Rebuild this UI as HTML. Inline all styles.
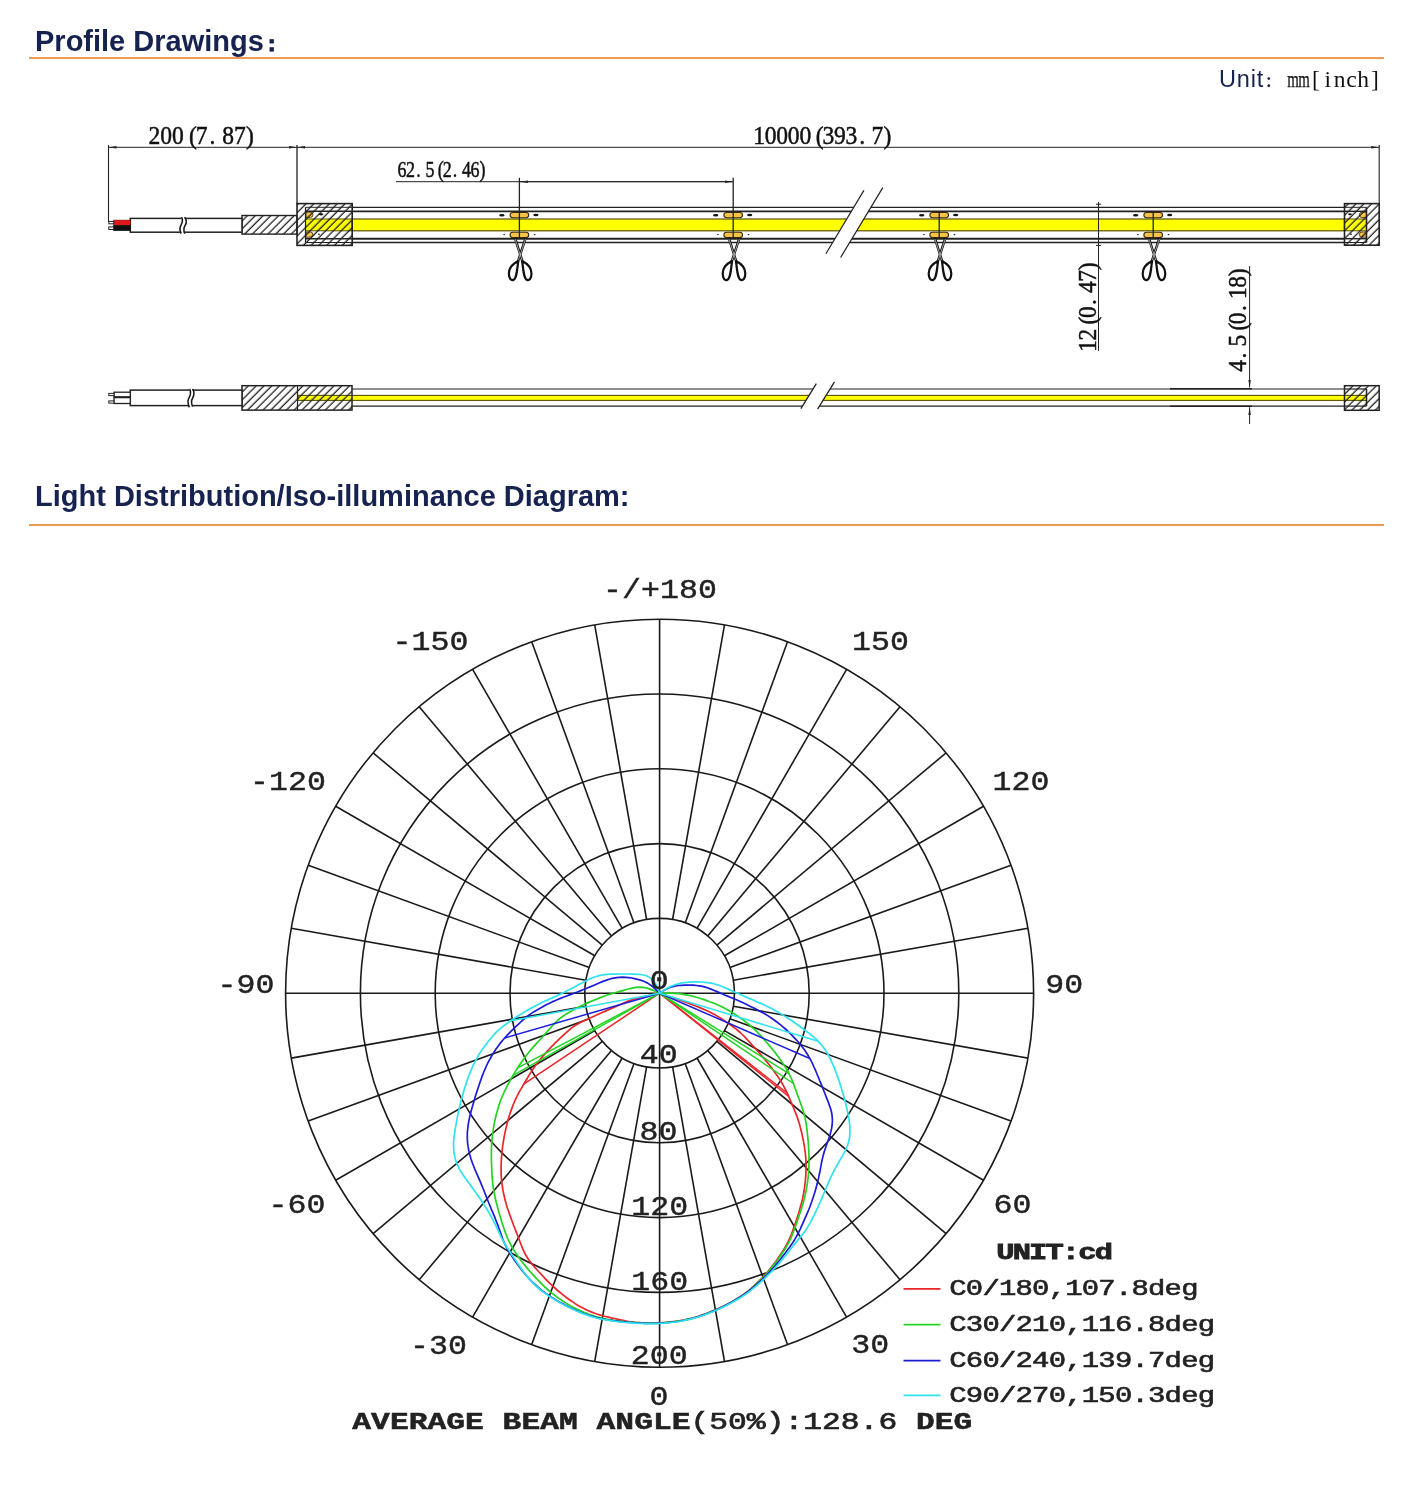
<!DOCTYPE html>
<html lang="en"><head><meta charset="utf-8"><title>Profile Drawings</title>
<style>
html,body{margin:0;padding:0;background:#fff;}
body{width:1422px;height:1500px;position:relative;overflow:hidden;font-family:"Liberation Sans","Noto Sans CJK SC",sans-serif;}
.h{position:absolute;left:35px;font-weight:bold;font-size:29px;color:#16224f;white-space:nowrap;line-height:32px;}
.rule{position:absolute;left:29px;width:1355px;height:2px;background:#ec9a55;}
.unit{position:absolute;white-space:nowrap;font-size:23.5px;line-height:28px;color:#16224f;}
.unit .s{font-family:"Liberation Serif","Noto Serif CJK SC",serif;color:#111;}
.unit .s i{font-style:normal;display:inline-block;width:11.8px;text-align:center;}
.unit .s i.m{text-align:left;transform:translateX(-3.1px) scaleX(0.63);transform-origin:9.1px 50%;-webkit-text-stroke:0.25px #111;}
.unit .u{letter-spacing:0.8px;}
.unit .c{font-family:"Liberation Serif","Noto Serif CJK SC",serif;line-height:0;font-size:16px;font-weight:bold;margin-left:0.5px;margin-right:6px;}
.fc{font-family:"Liberation Sans","IPAGothic","Noto Sans CJK SC",sans-serif;font-size:23px;line-height:0;position:relative;top:1.8px;margin-left:-3.6px;-webkit-text-stroke:0.7px #16224f;}
svg{position:absolute;left:0;top:0;}
.dim{font-family:"Liberation Serif","Noto Serif CJK SC",serif;font-size:25px;fill:#111;}
.pl{font-family:"Liberation Mono",monospace;font-weight:bold;fill:#222;}
</style></head><body>

<div class="h" style="top:24.5px">Profile Drawings<span class="fc">：</span></div>
<div class="rule" style="top:57px"></div>
<div class="unit" style="left:1219px;top:64.5px"><span class="u">Unit</span><span class="c">：</span><span class="s"><i class="m">m</i><i class="m">m</i><i>[</i><i>i</i><i>n</i><i>c</i><i>h</i><i>]</i></span></div>
<div class="h" style="top:480.4px">Light Distribution/Iso-illuminance Diagram:</div>
<div class="rule" style="top:524px"></div>
<svg width="1422" height="1500" viewBox="0 0 1422 1500">
<defs>
<pattern id="ht" width="5.5" height="5.5" patternUnits="userSpaceOnUse" patternTransform="rotate(-45)"><line x1="0" y1="3" x2="5.5" y2="3" stroke="#1a1a1a" stroke-width="1.25"/></pattern>
<pattern id="ht2" width="5.5" height="5.5" patternUnits="userSpaceOnUse" patternTransform="rotate(-45)"><line x1="0" y1="3" x2="5.5" y2="3" stroke="#222" stroke-width="1.2"/></pattern>
<marker id="ar" viewBox="0 0 8 3" refX="8" refY="1.5" markerWidth="8" markerHeight="3" orient="auto-start-reverse" markerUnits="userSpaceOnUse"><path d="M0,0.2 L8,1.5 L0,2.8 Z" fill="#222"/></marker>
</defs>
<line x1="352" y1="207.3" x2="1344.5" y2="207.3" stroke="#222" stroke-width="1.3" />
<line x1="352" y1="211.3" x2="1344.5" y2="211.3" stroke="#222" stroke-width="1.7" />
<line x1="352" y1="238.7" x2="1344.5" y2="238.7" stroke="#222" stroke-width="2.0" />
<line x1="352" y1="242.5" x2="1344.5" y2="242.5" stroke="#222" stroke-width="1.3" />
<rect x="352" y="219" width="992.5" height="11.8" fill="#ffff00" stroke="#5a5200" stroke-width="1.2" />
<rect x="305.5" y="211.3" width="46.5" height="27.4" fill="#fff" stroke="none" stroke-width="0" />
<rect x="305.5" y="219" width="46.5" height="11.8" fill="#ffff00" stroke="#5a5200" stroke-width="1.0" />
<path d="M306,212.2 h4.4 a2.6,2.6 0 0 1 0,5.2 h-4.4 z M306,232 h4.4 a2.6,2.6 0 0 1 0,5.2 h-4.4 z" fill="#f6c344" stroke="#3a2a10" stroke-width="0.8"/>
<rect x="297" y="203.6" width="55.2" height="41.8" fill="url(#ht)" stroke="#222" stroke-width="1.6" />
<line x1="305.5" y1="207.3" x2="352" y2="207.3" stroke="#222" stroke-width="1.0" />
<line x1="305.5" y1="211.3" x2="352" y2="211.3" stroke="#222" stroke-width="1.4" />
<line x1="305.5" y1="238.7" x2="352" y2="238.7" stroke="#222" stroke-width="1.4" />
<line x1="305.5" y1="242.5" x2="352" y2="242.5" stroke="#222" stroke-width="1.0" />
<line x1="305.5" y1="207.3" x2="305.5" y2="242.5" stroke="#222" stroke-width="1.2" />
<ellipse cx="321" cy="214.3" rx="2.4" ry="1.1" fill="#111"/>
<ellipse cx="319" cy="234.3" rx="0.9" ry="0.8" fill="#111"/>
<rect x="1344.5" y="219" width="22" height="11.8" fill="#ffff00" stroke="#5a5200" stroke-width="1.0" />
<path d="M1366.5,212.3 h-4.6 a2.6,2.6 0 0 0 0,5.2 h4.6 z M1366.5,232 h-4.6 a2.6,2.6 0 0 0 0,5.2 h4.6 z" fill="#f6c344" stroke="#3a2a10" stroke-width="0.8"/>
<rect x="1344.5" y="203.6" width="34.7" height="41.6" fill="url(#ht)" stroke="#222" stroke-width="1.6" />
<line x1="1344.5" y1="207.3" x2="1366.5" y2="207.3" stroke="#222" stroke-width="1.0" />
<line x1="1344.5" y1="211.3" x2="1366.5" y2="211.3" stroke="#222" stroke-width="1.4" />
<line x1="1344.5" y1="238.7" x2="1366.5" y2="238.7" stroke="#222" stroke-width="1.4" />
<line x1="1344.5" y1="242.5" x2="1366.5" y2="242.5" stroke="#222" stroke-width="1.0" />
<line x1="1366.5" y1="207.3" x2="1366.5" y2="242.5" stroke="#222" stroke-width="1.6" />
<ellipse cx="1350" cy="214.3" rx="1.8" ry="1" fill="#111"/>
<ellipse cx="1351" cy="234.3" rx="0.9" ry="0.8" fill="#111"/>
<rect x="242" y="215.5" width="55" height="18.6" fill="url(#ht)" stroke="#222" stroke-width="1.4" />
<rect x="130.3" y="218.4" width="111.7" height="13.8" fill="#fff" stroke="#222" stroke-width="1.5" />
<rect x="181.3" y="217" width="3.6" height="17" fill="#fff" stroke="none" stroke-width="0" />
<path d="M181.6,217.2 C183,220 182.6,222.5 181,225.2 C179.4,228 179.6,230.5 181,233.6 M184.6,217.2 C187.2,220.5 186.8,222.8 185,225.6 C183.3,228.4 183.4,230.6 184.8,233.6" fill="none" stroke="#1a1a1a" stroke-width="1.6"/>
<rect x="113.7" y="220.1" width="16.6" height="5.3" fill="#e0181c" stroke="#7a1010" stroke-width="0.6" />
<rect x="113.7" y="225.4" width="16.6" height="5.3" fill="#111" stroke="#111" stroke-width="0.6" />
<rect x="108.8" y="221.4" width="4.9" height="2.4" fill="#fff" stroke="#222" stroke-width="1.0" />
<rect x="108.8" y="226.9" width="4.9" height="2.6" fill="#fff" stroke="#222" stroke-width="1.0" />
<g transform="translate(519.4,215.1)">
<rect x="-9.3" y="-2.6" width="18.6" height="5.2" rx="2.6" fill="#f6c344" stroke="#3a2a10" stroke-width="1.1"/>
</g>
<g transform="translate(519.4,234.9)">
<rect x="-9.3" y="-2.6" width="18.6" height="5.2" rx="2.6" fill="#f6c344" stroke="#3a2a10" stroke-width="1.1"/>
</g>
<ellipse cx="501.9" cy="215.2" rx="2.7" ry="1.3" fill="#111"/><ellipse cx="535.9" cy="215" rx="2.6" ry="1.3" fill="#111"/>
<ellipse cx="504.09999999999997" cy="234.6" rx="0.9" ry="0.7" fill="#111"/><ellipse cx="534.6999999999999" cy="234.6" rx="0.9" ry="0.7" fill="#111"/>
<g transform="translate(520.2,238.6)" fill="none" stroke="#111" stroke-linecap="round" stroke-linejoin="round">
<path d="M-5,0 L2.6,24 M5.2,0 L-2.6,24" stroke-width="2.5"/>
<path d="M-5,0.6 L2.4,23.5 M5.2,0.6 L-2.4,23.5" stroke="#fff" stroke-width="0.6"/>
<path d="M-2,22.5 C-6,24.5 -11.3,28 -11.3,35 C-11.3,40.5 -9,42 -6.8,41.3 C-3.8,40.3 -3.2,33 -2,22.5 Z" stroke-width="2.2"/>
<path d="M2,22.5 C6,24.5 11.3,28 11.3,35 C11.3,40.5 9,42 6.8,41.3 C3.8,40.3 3.2,33 2,22.5 Z" stroke-width="2.2"/>
</g>
<g transform="translate(733.2,215.1)">
<rect x="-9.3" y="-2.6" width="18.6" height="5.2" rx="2.6" fill="#f6c344" stroke="#3a2a10" stroke-width="1.1"/>
</g>
<g transform="translate(733.2,234.9)">
<rect x="-9.3" y="-2.6" width="18.6" height="5.2" rx="2.6" fill="#f6c344" stroke="#3a2a10" stroke-width="1.1"/>
</g>
<ellipse cx="715.7" cy="215.2" rx="2.7" ry="1.3" fill="#111"/><ellipse cx="749.7" cy="215" rx="2.6" ry="1.3" fill="#111"/>
<ellipse cx="717.9000000000001" cy="234.6" rx="0.9" ry="0.7" fill="#111"/><ellipse cx="748.5" cy="234.6" rx="0.9" ry="0.7" fill="#111"/>
<g transform="translate(734,238.6)" fill="none" stroke="#111" stroke-linecap="round" stroke-linejoin="round">
<path d="M-5,0 L2.6,24 M5.2,0 L-2.6,24" stroke-width="2.5"/>
<path d="M-5,0.6 L2.4,23.5 M5.2,0.6 L-2.4,23.5" stroke="#fff" stroke-width="0.6"/>
<path d="M-2,22.5 C-6,24.5 -11.3,28 -11.3,35 C-11.3,40.5 -9,42 -6.8,41.3 C-3.8,40.3 -3.2,33 -2,22.5 Z" stroke-width="2.2"/>
<path d="M2,22.5 C6,24.5 11.3,28 11.3,35 C11.3,40.5 9,42 6.8,41.3 C3.8,40.3 3.2,33 2,22.5 Z" stroke-width="2.2"/>
</g>
<g transform="translate(939.2,215.1)">
<rect x="-9.3" y="-2.6" width="18.6" height="5.2" rx="2.6" fill="#f6c344" stroke="#3a2a10" stroke-width="1.1"/>
</g>
<g transform="translate(939.2,234.9)">
<rect x="-9.3" y="-2.6" width="18.6" height="5.2" rx="2.6" fill="#f6c344" stroke="#3a2a10" stroke-width="1.1"/>
</g>
<ellipse cx="921.7" cy="215.2" rx="2.7" ry="1.3" fill="#111"/><ellipse cx="955.7" cy="215" rx="2.6" ry="1.3" fill="#111"/>
<ellipse cx="923.9000000000001" cy="234.6" rx="0.9" ry="0.7" fill="#111"/><ellipse cx="954.5" cy="234.6" rx="0.9" ry="0.7" fill="#111"/>
<g transform="translate(940,238.6)" fill="none" stroke="#111" stroke-linecap="round" stroke-linejoin="round">
<path d="M-5,0 L2.6,24 M5.2,0 L-2.6,24" stroke-width="2.5"/>
<path d="M-5,0.6 L2.4,23.5 M5.2,0.6 L-2.4,23.5" stroke="#fff" stroke-width="0.6"/>
<path d="M-2,22.5 C-6,24.5 -11.3,28 -11.3,35 C-11.3,40.5 -9,42 -6.8,41.3 C-3.8,40.3 -3.2,33 -2,22.5 Z" stroke-width="2.2"/>
<path d="M2,22.5 C6,24.5 11.3,28 11.3,35 C11.3,40.5 9,42 6.8,41.3 C3.8,40.3 3.2,33 2,22.5 Z" stroke-width="2.2"/>
</g>
<g transform="translate(1153.2,215.1)">
<rect x="-9.3" y="-2.6" width="18.6" height="5.2" rx="2.6" fill="#f6c344" stroke="#3a2a10" stroke-width="1.1"/>
</g>
<g transform="translate(1153.2,234.9)">
<rect x="-9.3" y="-2.6" width="18.6" height="5.2" rx="2.6" fill="#f6c344" stroke="#3a2a10" stroke-width="1.1"/>
</g>
<ellipse cx="1135.7" cy="215.2" rx="2.7" ry="1.3" fill="#111"/><ellipse cx="1169.7" cy="215" rx="2.6" ry="1.3" fill="#111"/>
<ellipse cx="1137.9" cy="234.6" rx="0.9" ry="0.7" fill="#111"/><ellipse cx="1168.5" cy="234.6" rx="0.9" ry="0.7" fill="#111"/>
<g transform="translate(1154,238.6)" fill="none" stroke="#111" stroke-linecap="round" stroke-linejoin="round">
<path d="M-5,0 L2.6,24 M5.2,0 L-2.6,24" stroke-width="2.5"/>
<path d="M-5,0.6 L2.4,23.5 M5.2,0.6 L-2.4,23.5" stroke="#fff" stroke-width="0.6"/>
<path d="M-2,22.5 C-6,24.5 -11.3,28 -11.3,35 C-11.3,40.5 -9,42 -6.8,41.3 C-3.8,40.3 -3.2,33 -2,22.5 Z" stroke-width="2.2"/>
<path d="M2,22.5 C6,24.5 11.3,28 11.3,35 C11.3,40.5 9,42 6.8,41.3 C3.8,40.3 3.2,33 2,22.5 Z" stroke-width="2.2"/>
</g>
<line x1="519.4" y1="177.8" x2="519.4" y2="238" stroke="#222" stroke-width="1.3" />
<line x1="733.2" y1="177.8" x2="733.2" y2="238" stroke="#222" stroke-width="1.3" />
<line x1="939.2" y1="212.5" x2="939.2" y2="238" stroke="#222" stroke-width="1.3" />
<line x1="1153.2" y1="212.5" x2="1153.2" y2="238" stroke="#222" stroke-width="1.3" />
<polygon points="863.9,190.4 882.8,187.6 840.6,257.5 825.9,253.7" fill="#fff"/>
<line x1="863.9" y1="190.4" x2="825.9" y2="253.7" stroke="#222" stroke-width="1.2" />
<line x1="882.8" y1="187.6" x2="840.6" y2="257.5" stroke="#222" stroke-width="1.2" />
<line x1="108.5" y1="145" x2="108.5" y2="222" stroke="#222" stroke-width="1.1" />
<line x1="297" y1="145" x2="297" y2="204" stroke="#222" stroke-width="1.3" />
<line x1="1379.2" y1="145" x2="1379.2" y2="204" stroke="#222" stroke-width="1.1" />
<line x1="108.5" y1="147.3" x2="297" y2="147.3" stroke="#222" stroke-width="1.0" marker-start="url(#ar)" marker-end="url(#ar)"/>
<line x1="297" y1="147.3" x2="1379.2" y2="147.3" stroke="#222" stroke-width="1.0" marker-start="url(#ar)" marker-end="url(#ar)"/>
<line x1="396" y1="181.7" x2="733.2" y2="181.7" stroke="#222" stroke-width="1.0" />
<line x1="520" y1="181.7" x2="732.6" y2="181.7" stroke="#222" stroke-width="1.0" marker-start="url(#ar)" marker-end="url(#ar)"/>
<text class="dim" transform="translate(148.5,143.7) scale(0.925,1)" style="font-size:25.5px;stroke:#111;stroke-width:0.5px" text-anchor="middle" x="6.4 19.1 31.9 48 57.4 69.1 86.1 98.9 109.8" y="0">200(7.87)</text>
<text class="dim" transform="translate(753.3,143.7) scale(0.925,1)" style="font-size:25.5px;stroke:#111;stroke-width:0.5px" text-anchor="middle" x="6.2 18.7 31.2 43.7 56.2 71.9 81.2 93.6 106.1 117.6 134.2 145" y="0">10000(393.7)</text>
<text class="dim" transform="translate(397.7,177) scale(0.76,1)" style="font-size:23.7px;stroke:#111;stroke-width:0.5px" text-anchor="middle" x="5.7 17 27.4 42.4 56.7 65.1 75.5 90.5 101.8 111.6" y="0">62.5(2.46)</text>
<line x1="1098.5" y1="202" x2="1098.5" y2="351" stroke="#222" stroke-width="1.0" />
<line x1="1096" y1="204.2" x2="1101" y2="204.2" stroke="#222" stroke-width="1.0" />
<line x1="1096" y1="245.4" x2="1101" y2="245.4" stroke="#222" stroke-width="1.0" />
<line x1="1249.6" y1="266" x2="1249.6" y2="387.5" stroke="#222" stroke-width="1.0" marker-end="url(#ar)"/>
<line x1="1249.6" y1="424" x2="1249.6" y2="407.3" stroke="#222" stroke-width="1.0" marker-end="url(#ar)"/>
<g transform="translate(1095.5,351.5) rotate(-90)">
<text class="dim" transform="translate(0,0) scale(0.9,1)" style="font-size:26px;stroke:#111;stroke-width:0.5px" text-anchor="middle" x="6.2 18.7 34.3 43.6 55 71.6 84 94.7" y="0">12(0.47)</text>
</g>
<g transform="translate(1245.5,371.5) rotate(-90)">
<text class="dim" transform="translate(0,0) scale(0.9,1)" style="font-size:26px;stroke:#111;stroke-width:0.5px" text-anchor="middle" x="6.2 17.7 34.2 49.9 59.1 70.6 87.1 99.6 110.3" y="0">4.5(0.18)</text>
</g>
<line x1="352" y1="389" x2="1344.5" y2="389" stroke="#222" stroke-width="1.2" />
<line x1="352" y1="406.1" x2="1344.5" y2="406.1" stroke="#222" stroke-width="1.2" />
<rect x="298" y="395.4" width="1068.5" height="5" fill="#ffff00" stroke="#5a5200" stroke-width="1.1" />
<rect x="242" y="385.7" width="110" height="24.4" fill="url(#ht)" stroke="#222" stroke-width="1.5" />
<line x1="297.5" y1="385.7" x2="297.5" y2="410.1" stroke="#222" stroke-width="1.2" />
<rect x="1344.5" y="385.7" width="34.7" height="24.6" fill="url(#ht)" stroke="#222" stroke-width="1.5" />
<line x1="1344.5" y1="389" x2="1366.5" y2="389" stroke="#222" stroke-width="1.2" />
<line x1="1344.5" y1="406.1" x2="1366.5" y2="406.1" stroke="#222" stroke-width="1.2" />
<line x1="1366.5" y1="389" x2="1366.5" y2="406.1" stroke="#222" stroke-width="1.5" />
<rect x="130.3" y="390.1" width="111.7" height="15.5" fill="#fff" stroke="#222" stroke-width="1.5" />
<rect x="189.3" y="388.8" width="3.2" height="18" fill="#fff" stroke="none" stroke-width="0" />
<path d="M189.6,388.8 C191.2,392 190.8,394.8 189,397.8 C187.3,400.8 187.6,403.6 189.4,407.4 M192.6,388.8 C194.8,392.2 194.4,395 192.6,398 C191,400.8 191.2,403.4 192.6,406.6" fill="none" stroke="#1a1a1a" stroke-width="1.5"/>
<rect x="114" y="392.2" width="16.3" height="4.6" fill="#fff" stroke="#222" stroke-width="1.3" />
<rect x="114" y="397.6" width="16.3" height="5.9" fill="#fff" stroke="#222" stroke-width="1.3" />
<rect x="108.8" y="393.4" width="5.2" height="2.2" fill="#fff" stroke="#222" stroke-width="1.0" />
<rect x="108.8" y="400.9" width="5.2" height="2.2" fill="#fff" stroke="#222" stroke-width="1.0" />
<polygon points="816.3,383.6 834.5,381.9 817.6,409.2 800.9,408.7" fill="#fff"/>
<line x1="816.3" y1="383.6" x2="800.9" y2="408.7" stroke="#222" stroke-width="1.3" />
<line x1="834.5" y1="381.9" x2="817.6" y2="409.2" stroke="#222" stroke-width="1.3" />
<line x1="1170" y1="388.7" x2="1252" y2="388.7" stroke="#222" stroke-width="1.6" />
<line x1="1170" y1="406.2" x2="1252" y2="406.2" stroke="#222" stroke-width="1.6" />
<circle cx="659.6" cy="993.2" r="74.8" fill="none" stroke="#1a1a1a" stroke-width="1.6"/>
<circle cx="659.6" cy="993.2" r="149.6" fill="none" stroke="#1a1a1a" stroke-width="1.6"/>
<circle cx="659.6" cy="993.2" r="224.4" fill="none" stroke="#1a1a1a" stroke-width="1.6"/>
<circle cx="659.6" cy="993.2" r="299.2" fill="none" stroke="#1a1a1a" stroke-width="1.6"/>
<circle cx="659.6" cy="993.2" r="374" fill="none" stroke="#1a1a1a" stroke-width="1.6"/>
<line x1="659.6" y1="993.2" x2="659.6" y2="1367.2" stroke="#1a1a1a" stroke-width="1.6" />
<line x1="672.6" y1="1066.9" x2="724.5" y2="1361.5" stroke="#1a1a1a" stroke-width="1.6" />
<line x1="685.2" y1="1063.5" x2="787.5" y2="1344.6" stroke="#1a1a1a" stroke-width="1.6" />
<line x1="697" y1="1058" x2="846.6" y2="1317.1" stroke="#1a1a1a" stroke-width="1.6" />
<line x1="707.7" y1="1050.5" x2="900" y2="1279.7" stroke="#1a1a1a" stroke-width="1.6" />
<line x1="716.9" y1="1041.3" x2="946.1" y2="1233.6" stroke="#1a1a1a" stroke-width="1.6" />
<line x1="724.4" y1="1030.6" x2="983.5" y2="1180.2" stroke="#1a1a1a" stroke-width="1.6" />
<line x1="729.9" y1="1018.8" x2="1011" y2="1121.1" stroke="#1a1a1a" stroke-width="1.6" />
<line x1="733.3" y1="1006.2" x2="1027.9" y2="1058.1" stroke="#1a1a1a" stroke-width="1.6" />
<line x1="659.6" y1="993.2" x2="1033.6" y2="993.2" stroke="#1a1a1a" stroke-width="1.6" />
<line x1="733.3" y1="980.2" x2="1027.9" y2="928.3" stroke="#1a1a1a" stroke-width="1.6" />
<line x1="729.9" y1="967.6" x2="1011" y2="865.3" stroke="#1a1a1a" stroke-width="1.6" />
<line x1="724.4" y1="955.8" x2="983.5" y2="806.2" stroke="#1a1a1a" stroke-width="1.6" />
<line x1="716.9" y1="945.1" x2="946.1" y2="752.8" stroke="#1a1a1a" stroke-width="1.6" />
<line x1="707.7" y1="935.9" x2="900" y2="706.7" stroke="#1a1a1a" stroke-width="1.6" />
<line x1="697" y1="928.4" x2="846.6" y2="669.3" stroke="#1a1a1a" stroke-width="1.6" />
<line x1="685.2" y1="922.9" x2="787.5" y2="641.8" stroke="#1a1a1a" stroke-width="1.6" />
<line x1="672.6" y1="919.5" x2="724.5" y2="624.9" stroke="#1a1a1a" stroke-width="1.6" />
<line x1="659.6" y1="993.2" x2="659.6" y2="619.2" stroke="#1a1a1a" stroke-width="1.6" />
<line x1="646.6" y1="919.5" x2="594.7" y2="624.9" stroke="#1a1a1a" stroke-width="1.6" />
<line x1="634" y1="922.9" x2="531.7" y2="641.8" stroke="#1a1a1a" stroke-width="1.6" />
<line x1="622.2" y1="928.4" x2="472.6" y2="669.3" stroke="#1a1a1a" stroke-width="1.6" />
<line x1="611.5" y1="935.9" x2="419.2" y2="706.7" stroke="#1a1a1a" stroke-width="1.6" />
<line x1="602.3" y1="945.1" x2="373.1" y2="752.8" stroke="#1a1a1a" stroke-width="1.6" />
<line x1="594.8" y1="955.8" x2="335.7" y2="806.2" stroke="#1a1a1a" stroke-width="1.6" />
<line x1="589.3" y1="967.6" x2="308.2" y2="865.3" stroke="#1a1a1a" stroke-width="1.6" />
<line x1="585.9" y1="980.2" x2="291.3" y2="928.3" stroke="#1a1a1a" stroke-width="1.6" />
<line x1="659.6" y1="993.2" x2="285.6" y2="993.2" stroke="#1a1a1a" stroke-width="1.6" />
<line x1="585.9" y1="1006.2" x2="291.3" y2="1058.1" stroke="#1a1a1a" stroke-width="1.6" />
<line x1="589.3" y1="1018.8" x2="308.2" y2="1121.1" stroke="#1a1a1a" stroke-width="1.6" />
<line x1="594.8" y1="1030.6" x2="335.7" y2="1180.2" stroke="#1a1a1a" stroke-width="1.6" />
<line x1="602.3" y1="1041.3" x2="373.1" y2="1233.6" stroke="#1a1a1a" stroke-width="1.6" />
<line x1="611.5" y1="1050.5" x2="419.2" y2="1279.7" stroke="#1a1a1a" stroke-width="1.6" />
<line x1="622.2" y1="1058" x2="472.6" y2="1317.1" stroke="#1a1a1a" stroke-width="1.6" />
<line x1="634" y1="1063.5" x2="531.7" y2="1344.6" stroke="#1a1a1a" stroke-width="1.6" />
<line x1="646.6" y1="1066.9" x2="594.7" y2="1361.5" stroke="#1a1a1a" stroke-width="1.6" />
<path d="M659.6,993.2 L662.5,994.2 L665.3,995.1 L668.2,996.1 L671,997 L673.9,998 L676.8,998.9 L679.6,999.9 L682.4,1000.9 L685.3,1002 L688.1,1003 L690.9,1004.1 L693.7,1005.2 L696.5,1006.3 L699.3,1007.4 L702.1,1008.6 L704.9,1009.8 L707.6,1011 L710.3,1012.3 L713,1013.7 L715.6,1015.1 L718.2,1016.7 L720.8,1018.2 L723.3,1019.9 L725.8,1021.6 L728.3,1023.3 L730.7,1025 L733.2,1026.8 L735.6,1028.6 L737.9,1030.5 L740.2,1032.5 L742.3,1034.5 L744.5,1036.7 L746.5,1038.8 L748.6,1041 L750.6,1043.3 L752.6,1045.5 L754.7,1047.7 L756.7,1050 L758.7,1052.2 L760.7,1054.5 L762.6,1056.8 L764.6,1059.1 L766.5,1061.4 L768.4,1063.8 L770.3,1066.1 L772.1,1068.5 L773.9,1070.9 L775.6,1073.4 L777.4,1075.9 L779,1078.4 L780.6,1080.9 L782.2,1083.5 L783.7,1086.1 L785.1,1088.8 L786.4,1091.5 L787.7,1094.2 L788.9,1096.9 L790,1099.7 L791.2,1102.5 L792.4,1105.3 L793.6,1108 L794.7,1110.8 L795.9,1113.6 L797,1116.4 L797.9,1119.2 L798.8,1122.1 L799.7,1125 L800.4,1127.9 L801.2,1130.8 L801.9,1133.8 L802.5,1136.7 L803.2,1139.6 L803.7,1142.6 L804.3,1145.6 L804.7,1148.5 L805.1,1151.5 L805.5,1154.5 L805.7,1157.5 L805.9,1160.5 L806,1163.5 L806.1,1166.5 L806,1169.5 L805.9,1172.5 L805.8,1175.5 L805.5,1178.6 L805.3,1181.5 L804.9,1184.5 L804.5,1187.5 L804.1,1190.5 L803.6,1193.5 L803,1196.4 L802.4,1199.4 L801.7,1202.3 L800.9,1205.2 L800.1,1208.1 L799.3,1211 L798.4,1213.9 L797.5,1216.8 L796.6,1219.6 L795.6,1222.5 L794.6,1225.3 L793.6,1228.2 L792.6,1231 L791.6,1233.8 L790.4,1236.6 L789.2,1239.4 L787.9,1242.1 L786.5,1244.7 L785,1247.3 L783.5,1249.9 L781.9,1252.5 L780.2,1255 L778.5,1257.5 L776.8,1260 L775.1,1262.4 L773.3,1264.8 L771.4,1267.2 L769.5,1269.5 L767.6,1271.8 L765.6,1274.1 L763.6,1276.3 L761.5,1278.5 L759.4,1280.6 L757.2,1282.7 L755,1284.8 L752.8,1286.9 L750.6,1288.9 L748.3,1290.8 L745.9,1292.7 L743.5,1294.4 L741,1296.1 L738.5,1297.8 L736,1299.3 L733.4,1300.9 L730.7,1302.4 L728.1,1303.8 L725.4,1305.2 L722.7,1306.5 L720,1307.8 L717.3,1309 L714.5,1310.3 L711.7,1311.4 L708.9,1312.5 L706.1,1313.6 L703.3,1314.6 L700.4,1315.6 L697.6,1316.5 L694.7,1317.4 L691.8,1318.2 L688.8,1318.9 L685.9,1319.5 L683,1320.1 L680,1320.7 L677,1321.1 L674,1321.5 L671.1,1321.9 L668.1,1322.2 L665.1,1322.5 L662,1322.7 L659,1322.8 L656,1323 L653,1323 L650,1323 L647,1322.9 L644,1322.8 L641,1322.7 L638,1322.5 L635,1322.3 L632,1321.9 L629,1321.5 L626.1,1321 L623.1,1320.4 L620.1,1319.8 L617.2,1319.2 L614.3,1318.5 L611.3,1317.9 L608.4,1317.2 L605.5,1316.5 L602.6,1315.7 L599.7,1314.9 L596.8,1314 L594,1313 L591.2,1311.9 L588.4,1310.7 L585.7,1309.4 L583,1308.1 L580.3,1306.7 L577.7,1305.2 L575.2,1303.6 L572.7,1301.9 L570.2,1300.2 L567.8,1298.5 L565.3,1296.7 L563,1294.8 L560.6,1292.9 L558.3,1291 L556,1289 L553.8,1287 L551.6,1285 L549.4,1282.9 L547.3,1280.8 L545.2,1278.6 L543.1,1276.4 L541.1,1274.2 L539,1272 L537,1269.8 L535,1267.6 L533,1265.3 L531.1,1263 L529.3,1260.6 L527.6,1258.1 L526.1,1255.5 L524.6,1252.9 L523.3,1250.2 L522.2,1247.5 L521.1,1244.7 L520,1241.8 L519,1239 L517.9,1236.2 L516.8,1233.4 L515.7,1230.6 L514.6,1227.8 L513.5,1225 L512.5,1222.2 L511.4,1219.3 L510.4,1216.5 L509.4,1213.7 L508.4,1210.8 L507.4,1208 L506.5,1205.1 L505.7,1202.2 L504.9,1199.3 L504.3,1196.4 L503.6,1193.4 L503,1190.5 L502.5,1187.5 L502.1,1184.5 L501.7,1181.5 L501.4,1178.5 L501.2,1175.5 L501.1,1172.5 L501.1,1169.5 L501.1,1166.5 L501.2,1163.5 L501.3,1160.5 L501.5,1157.5 L501.8,1154.5 L502.1,1151.5 L502.4,1148.5 L502.8,1145.5 L503.2,1142.5 L503.7,1139.6 L504.2,1136.6 L504.8,1133.6 L505.4,1130.7 L506.1,1127.7 L506.8,1124.8 L507.5,1121.9 L508.3,1119 L509.2,1116.1 L510.1,1113.2 L511.1,1110.4 L512.1,1107.6 L513.2,1104.8 L514.3,1102 L515.6,1099.2 L516.9,1096.5 L518.2,1093.9 L519.7,1091.2 L521.2,1088.6 L522.7,1086 L524.2,1083.4 L525.7,1080.8 L527.3,1078.2 L528.8,1075.6 L530.4,1073.1 L532.1,1070.5 L533.7,1068 L535.5,1065.6 L537.3,1063.2 L539.1,1060.8 L541,1058.4 L542.9,1056.1 L544.9,1053.9 L546.9,1051.6 L549,1049.4 L551,1047.2 L553.1,1045.1 L555.3,1042.9 L557.4,1040.8 L559.6,1038.7 L561.8,1036.7 L564,1034.6 L566.2,1032.6 L568.5,1030.6 L570.8,1028.7 L573.1,1026.9 L575.6,1025.2 L578.2,1023.7 L580.8,1022.3 L583.5,1021 L586.2,1019.7 L589,1018.4 L591.7,1017.2 L594.5,1016 L597.2,1014.8 L600,1013.5 L602.7,1012.3 L605.5,1011.1 L608.3,1009.9 L611,1008.6 L613.8,1007.4 L616.5,1006.2 L619.3,1004.9 L622,1003.7 L624.8,1002.5 L627.6,1001.4 L630.4,1000.4 L633.2,999.4 L636.1,998.6 L639,997.8 L641.9,997.1 L644.9,996.5 L647.8,995.8 L650.8,995.1 L653.7,994.5 L656.7,993.8 L659.6,993.2" fill="none" stroke="#e8262a" stroke-width="1.7" stroke-linejoin="round"/>
<line x1="659.6" y1="993.2" x2="523.7" y2="1084.2" stroke="#e8262a" stroke-width="1.5" />
<line x1="659.6" y1="993.2" x2="787.1" y2="1093" stroke="#e8262a" stroke-width="1.5" />
<line x1="659.6" y1="993.2" x2="788.7" y2="1096.5" stroke="#e8262a" stroke-width="1.5" />
<path d="M659.6,993.2 L662.6,993.2 L665.6,993.1 L668.6,993.2 L671.6,993.2 L674.6,993.3 L677.6,993.6 L680.6,993.9 L683.6,994.3 L686.5,994.8 L689.5,995.5 L692.4,996.2 L695.3,997 L698.2,997.8 L701.1,998.7 L703.9,999.6 L706.8,1000.6 L709.6,1001.7 L712.4,1002.7 L715.2,1003.8 L718,1005 L720.7,1006.3 L723.4,1007.6 L726.1,1009 L728.7,1010.4 L731.3,1011.9 L733.8,1013.5 L736.3,1015.2 L738.8,1016.9 L741.3,1018.6 L743.7,1020.4 L746.1,1022.2 L748.5,1024.1 L750.7,1026 L753,1028.1 L755.2,1030.1 L757.3,1032.2 L759.4,1034.4 L761.5,1036.6 L763.5,1038.8 L765.5,1041.1 L767.5,1043.3 L769.4,1045.6 L771.3,1048 L773.2,1050.3 L775.1,1052.6 L776.9,1055 L778.7,1057.4 L780.5,1059.9 L782.2,1062.4 L783.9,1064.9 L785.5,1067.4 L787,1070 L788.5,1072.6 L789.8,1075.3 L791.1,1078 L792.3,1080.8 L793.5,1083.5 L794.5,1086.4 L795.5,1089.2 L796.5,1092 L797.5,1094.9 L798.6,1097.7 L799.6,1100.5 L800.6,1103.4 L801.6,1106.2 L802.6,1109 L803.5,1111.9 L804.3,1114.8 L805.1,1117.7 L805.6,1120.6 L806.2,1123.6 L806.6,1126.6 L807,1129.6 L807.3,1132.5 L807.6,1135.5 L807.9,1138.5 L808.2,1141.5 L808.4,1144.5 L808.6,1147.5 L808.8,1150.6 L808.9,1153.6 L809,1156.6 L809,1159.6 L809,1162.6 L808.9,1165.6 L808.8,1168.6 L808.6,1171.6 L808.4,1174.6 L808.1,1177.6 L807.7,1180.6 L807.3,1183.6 L806.8,1186.5 L806.3,1189.5 L805.7,1192.4 L805.1,1195.4 L804.4,1198.3 L803.6,1201.2 L802.8,1204.1 L801.9,1207 L801,1209.9 L800.1,1212.7 L799.1,1215.6 L798.1,1218.4 L797.2,1221.3 L796.2,1224.1 L795.2,1227 L794.2,1229.8 L793.1,1232.6 L792,1235.4 L790.9,1238.2 L789.6,1240.9 L788.2,1243.6 L786.7,1246.2 L785.2,1248.7 L783.5,1251.3 L781.9,1253.8 L780.2,1256.3 L778.5,1258.7 L776.7,1261.2 L774.9,1263.6 L773.1,1266 L771.2,1268.3 L769.3,1270.6 L767.3,1272.9 L765.3,1275.2 L763.2,1277.4 L761.1,1279.5 L759,1281.6 L756.8,1283.7 L754.6,1285.7 L752.4,1287.8 L750.1,1289.7 L747.8,1291.6 L745.4,1293.4 L742.9,1295.1 L740.4,1296.8 L737.9,1298.4 L735.3,1300 L732.7,1301.5 L730.1,1302.9 L727.4,1304.4 L724.7,1305.7 L722,1307 L719.3,1308.3 L716.6,1309.5 L713.8,1310.7 L711,1311.9 L708.2,1313 L705.4,1314.1 L702.6,1315.1 L699.7,1316.1 L696.9,1317 L694,1317.8 L691.1,1318.5 L688.2,1319.2 L685.2,1319.9 L682.3,1320.5 L679.3,1321 L676.3,1321.4 L673.3,1321.8 L670.3,1322.1 L667.4,1322.4 L664.4,1322.7 L661.4,1322.9 L658.4,1323.1 L655.3,1323.2 L652.3,1323.2 L649.3,1323.2 L646.3,1323.1 L643.3,1323 L640.3,1322.9 L637.3,1322.7 L634.3,1322.6 L631.3,1322.3 L628.3,1322.1 L625.3,1321.8 L622.3,1321.4 L619.3,1321.1 L616.3,1320.7 L613.3,1320.3 L610.4,1319.8 L607.4,1319.3 L604.5,1318.7 L601.5,1318 L598.6,1317.3 L595.7,1316.5 L592.8,1315.6 L590,1314.7 L587.2,1313.6 L584.4,1312.5 L581.6,1311.3 L578.9,1310.1 L576.2,1308.8 L573.5,1307.4 L570.9,1306 L568.3,1304.5 L565.7,1302.9 L563.1,1301.3 L560.6,1299.6 L558.2,1297.9 L555.8,1296.1 L553.4,1294.3 L551,1292.4 L548.7,1290.5 L546.5,1288.5 L544.3,1286.5 L542.1,1284.4 L540,1282.2 L537.9,1280 L535.9,1277.8 L533.8,1275.6 L531.8,1273.4 L529.8,1271.2 L527.8,1268.9 L525.9,1266.6 L524,1264.2 L522.1,1261.9 L520.3,1259.5 L518.5,1257.1 L516.8,1254.6 L515.1,1252.1 L513.5,1249.6 L512,1247 L510.6,1244.4 L509.2,1241.7 L507.9,1239 L506.8,1236.2 L505.7,1233.4 L504.7,1230.6 L503.7,1227.7 L502.8,1224.9 L501.8,1222 L501,1219.1 L500.1,1216.2 L499.2,1213.3 L498.4,1210.4 L497.6,1207.5 L496.8,1204.6 L496.1,1201.7 L495.4,1198.8 L494.8,1195.9 L494.2,1192.9 L493.7,1189.9 L493.2,1187 L492.8,1184 L492.5,1181 L492.2,1178 L492,1175 L491.9,1172 L491.7,1169 L491.6,1166 L491.5,1163 L491.4,1159.9 L491.4,1156.9 L491.4,1153.9 L491.4,1150.9 L491.5,1147.9 L491.6,1144.9 L491.8,1141.9 L492.1,1138.9 L492.4,1135.9 L492.7,1132.9 L493.2,1129.9 L493.6,1127 L494.2,1124 L494.8,1121.1 L495.4,1118.1 L496.1,1115.2 L496.9,1112.3 L497.7,1109.4 L498.6,1106.5 L499.5,1103.7 L500.5,1100.8 L501.6,1098 L502.7,1095.3 L504,1092.5 L505.2,1089.8 L506.6,1087.1 L508,1084.4 L509.4,1081.8 L510.8,1079.1 L512.4,1076.5 L513.9,1073.9 L515.5,1071.4 L517.1,1068.8 L518.7,1066.3 L520.4,1063.8 L522.1,1061.3 L523.8,1058.9 L525.6,1056.4 L527.4,1054 L529.3,1051.7 L531.2,1049.4 L533.2,1047.1 L535.2,1044.9 L537.3,1042.7 L539.3,1040.5 L541.3,1038.3 L543.3,1036 L545.3,1033.8 L547.3,1031.5 L549.3,1029.2 L551.3,1027 L553.3,1024.8 L555.4,1022.6 L557.6,1020.5 L559.8,1018.6 L562.2,1016.8 L564.6,1015.1 L567.2,1013.5 L569.8,1012 L572.4,1010.5 L575,1009.1 L577.7,1007.6 L580.3,1006.2 L583,1004.9 L585.7,1003.6 L588.5,1002.4 L591.3,1001.2 L594.1,1000.1 L596.9,999 L599.7,997.9 L602.5,996.8 L605.3,995.8 L608.1,994.8 L611,993.9 L613.9,993 L616.8,992.2 L619.7,991.4 L622.6,990.6 L625.5,989.8 L628.4,989 L631.3,988.3 L634.2,987.7 L637.1,987.3 L640,987.1 L642.9,987.3 L645.8,987.8 L648.6,988.6 L651.4,989.6 L654.1,990.7 L656.9,991.9 L659.6,993.2" fill="none" stroke="#22d322" stroke-width="1.7" stroke-linejoin="round"/>
<line x1="659.6" y1="993.2" x2="513" y2="1075.4" stroke="#22d322" stroke-width="1.5" />
<line x1="659.6" y1="993.2" x2="517.7" y2="1067.9" stroke="#22d322" stroke-width="1.5" />
<line x1="659.6" y1="993.2" x2="793.4" y2="1083.5" stroke="#22d322" stroke-width="1.5" />
<line x1="659.6" y1="993.2" x2="789" y2="1073.7" stroke="#22d322" stroke-width="1.5" />
<path d="M659.6,993.2 L662.1,991.5 L664.6,990 L667.2,988.6 L669.9,987.5 L672.7,986.6 L675.6,986 L678.5,985.5 L681.5,985.3 L684.5,985.1 L687.5,985.1 L690.5,985.1 L693.5,985.2 L696.5,985.5 L699.4,985.9 L702.4,986.4 L705.3,987.1 L708.1,988 L710.9,989.1 L713.7,990.2 L716.4,991.4 L719.2,992.6 L722,993.8 L724.7,995 L727.5,996.1 L730.3,997.2 L733.1,998.4 L735.9,999.5 L738.6,1000.7 L741.4,1002 L744.1,1003.3 L746.8,1004.6 L749.5,1005.9 L752.2,1007.2 L754.9,1008.6 L757.6,1010 L760.3,1011.4 L762.9,1012.8 L765.5,1014.3 L768.1,1015.9 L770.6,1017.5 L773.1,1019.2 L775.5,1021 L777.9,1022.8 L780.3,1024.7 L782.6,1026.6 L784.9,1028.5 L787.1,1030.5 L789.3,1032.6 L791.4,1034.7 L793.5,1036.9 L795.6,1039.1 L797.6,1041.3 L799.6,1043.6 L801.5,1045.9 L803.3,1048.3 L805.1,1050.7 L806.7,1053.2 L808.3,1055.8 L809.8,1058.4 L811.2,1061 L812.5,1063.7 L813.7,1066.5 L815,1069.2 L816.2,1072 L817.3,1074.8 L818.5,1077.5 L819.6,1080.3 L820.8,1083.1 L821.9,1085.9 L823,1088.7 L824.1,1091.5 L825.2,1094.3 L826.3,1097.1 L827.4,1099.9 L828.5,1102.7 L829.5,1105.6 L830.5,1108.4 L831.3,1111.3 L831.9,1114.1 L832.2,1117.1 L832.4,1120 L832.3,1123 L832,1126 L831.5,1128.9 L830.8,1131.8 L830,1134.7 L829.1,1137.6 L828.2,1140.4 L827.1,1143.2 L826.1,1146.1 L825.2,1148.9 L824.2,1151.8 L823.4,1154.7 L822.7,1157.6 L822,1160.5 L821.4,1163.4 L820.9,1166.4 L820.3,1169.4 L819.8,1172.3 L819.1,1175.3 L818.5,1178.2 L817.8,1181.1 L817.1,1184.1 L816.3,1187 L815.5,1189.9 L814.7,1192.8 L813.8,1195.6 L812.8,1198.5 L811.9,1201.3 L810.8,1204.2 L809.8,1207 L808.7,1209.8 L807.5,1212.6 L806.3,1215.3 L805.1,1218.1 L803.9,1220.9 L802.7,1223.6 L801.4,1226.4 L800.2,1229.1 L798.9,1231.8 L797.5,1234.5 L796.1,1237.1 L794.6,1239.7 L793,1242.3 L791.3,1244.7 L789.6,1247.2 L787.8,1249.6 L786,1252 L784.2,1254.4 L782.3,1256.8 L780.5,1259.2 L778.6,1261.5 L776.7,1263.9 L774.8,1266.2 L772.8,1268.5 L770.8,1270.7 L768.8,1272.9 L766.7,1275.1 L764.5,1277.2 L762.4,1279.3 L760.2,1281.3 L757.9,1283.3 L755.7,1285.3 L753.4,1287.3 L751.1,1289.2 L748.7,1291.1 L746.3,1292.9 L743.9,1294.6 L741.4,1296.3 L738.9,1297.9 L736.3,1299.5 L733.7,1301 L731.1,1302.5 L728.4,1303.9 L725.7,1305.3 L723.1,1306.7 L720.3,1308 L717.6,1309.2 L714.9,1310.5 L712.1,1311.6 L709.3,1312.8 L706.5,1313.9 L703.7,1314.9 L700.8,1315.9 L698,1316.8 L695.1,1317.7 L692.2,1318.5 L689.3,1319.2 L686.3,1319.8 L683.4,1320.5 L680.4,1321 L677.5,1321.5 L674.5,1321.9 L671.5,1322.2 L668.5,1322.5 L665.5,1322.8 L662.5,1323 L659.5,1323.2 L656.5,1323.3 L653.5,1323.4 L650.5,1323.4 L647.5,1323.4 L644.5,1323.3 L641.4,1323.2 L638.4,1323.1 L635.4,1322.9 L632.4,1322.7 L629.4,1322.5 L626.4,1322.2 L623.4,1321.9 L620.4,1321.6 L617.4,1321.2 L614.5,1320.9 L611.5,1320.4 L608.5,1320 L605.5,1319.5 L602.6,1318.9 L599.6,1318.3 L596.7,1317.6 L593.8,1316.8 L590.9,1315.9 L588.1,1315 L585.2,1314 L582.4,1313 L579.6,1311.9 L576.9,1310.7 L574.1,1309.4 L571.4,1308.2 L568.7,1306.9 L566,1305.5 L563.3,1304.1 L560.7,1302.7 L558,1301.2 L555.4,1299.7 L552.9,1298.1 L550.3,1296.5 L547.9,1294.8 L545.4,1293.1 L543,1291.3 L540.6,1289.4 L538.3,1287.5 L536.1,1285.5 L533.9,1283.5 L531.7,1281.4 L529.6,1279.2 L527.6,1277 L525.6,1274.8 L523.7,1272.5 L521.8,1270.1 L520,1267.7 L518.2,1265.3 L516.4,1262.8 L514.7,1260.4 L513,1257.9 L511.4,1255.4 L509.8,1252.8 L508.2,1250.3 L506.7,1247.6 L505.3,1245 L504.1,1242.3 L502.9,1239.5 L501.9,1236.7 L500.9,1233.9 L499.9,1231 L498.9,1228.2 L497.9,1225.4 L496.8,1222.5 L495.7,1219.7 L494.6,1216.9 L493.5,1214.1 L492.3,1211.4 L491.1,1208.6 L490,1205.8 L488.8,1203 L487.7,1200.2 L486.6,1197.4 L485.5,1194.6 L484.4,1191.8 L483.3,1189 L482.1,1186.2 L481,1183.4 L479.8,1180.7 L478.6,1177.9 L477.4,1175.1 L476.2,1172.4 L475,1169.6 L473.9,1166.8 L472.8,1164 L471.8,1161.2 L470.8,1158.3 L470,1155.5 L469.2,1152.6 L468.6,1149.6 L468.1,1146.7 L467.7,1143.7 L467.4,1140.7 L467.3,1137.7 L467.3,1134.7 L467.4,1131.8 L467.7,1128.8 L468.1,1125.8 L468.5,1122.8 L469.1,1119.9 L469.7,1116.9 L470.4,1114 L471.2,1111.1 L471.9,1108.2 L472.8,1105.3 L473.6,1102.4 L474.5,1099.5 L475.3,1096.6 L476.2,1093.8 L477.1,1090.9 L478.1,1088 L479,1085.2 L480,1082.3 L481,1079.5 L482,1076.6 L483.1,1073.8 L484.2,1071 L485.4,1068.3 L486.6,1065.5 L487.9,1062.8 L489.3,1060.2 L490.8,1057.5 L492.3,1054.9 L493.8,1052.4 L495.5,1049.8 L497.2,1047.4 L499,1045 L500.8,1042.6 L502.7,1040.2 L504.7,1038 L506.7,1035.7 L508.8,1033.6 L510.9,1031.4 L513,1029.3 L515.2,1027.2 L517.4,1025.1 L519.6,1023.1 L521.8,1021 L524,1019 L526.3,1017.1 L528.7,1015.3 L531.1,1013.6 L533.6,1011.9 L536.2,1010.4 L538.8,1008.9 L541.4,1007.4 L544.1,1005.9 L546.7,1004.5 L549.4,1003.2 L552.1,1001.9 L554.9,1000.7 L557.7,999.5 L560.4,998.4 L563.2,997.3 L566.1,996.2 L568.9,995.1 L571.7,994.1 L574.5,993 L577.4,992 L580.2,990.9 L583,989.8 L585.8,988.7 L588.5,987.5 L591.3,986.4 L594.1,985.2 L596.8,984 L599.6,982.8 L602.4,981.6 L605.2,980.6 L608,979.6 L610.9,978.7 L613.8,978.1 L616.7,977.6 L619.7,977.3 L622.6,977.2 L625.6,977.3 L628.6,977.6 L631.6,978 L634.5,978.6 L637.4,979.3 L640.3,980.1 L643.1,981 L645.8,982.2 L648.4,983.6 L650.8,985.2 L653.1,987 L655.3,989 L657.5,991.1 L659.6,993.2" fill="none" stroke="#1c1cd8" stroke-width="1.7" stroke-linejoin="round"/>
<line x1="659.6" y1="993.2" x2="504.6" y2="1038" stroke="#1c1cd8" stroke-width="1.5" />
<line x1="659.6" y1="993.2" x2="809.8" y2="1058.5" stroke="#1c1cd8" stroke-width="1.5" />
<path d="M659.6,993.2 L662.1,991.5 L664.5,989.8 L667.1,988.3 L669.7,986.9 L672.5,985.7 L675.2,984.7 L678.1,983.9 L681,983.2 L683.9,982.7 L686.9,982.3 L689.9,982.1 L692.9,981.9 L695.9,981.8 L698.9,981.9 L701.9,982 L704.8,982.3 L707.8,982.6 L710.8,983.1 L713.7,983.7 L716.5,984.5 L719.4,985.5 L722.2,986.5 L725,987.7 L727.7,988.9 L730.4,990.1 L733.2,991.4 L735.9,992.6 L738.7,993.8 L741.4,995 L744.2,996.2 L746.9,997.4 L749.7,998.6 L752.5,999.8 L755.2,1000.9 L758,1002.2 L760.8,1003.4 L763.5,1004.6 L766.2,1005.9 L768.9,1007.2 L771.6,1008.6 L774.2,1010 L776.9,1011.5 L779.5,1013 L782.1,1014.5 L784.6,1016.1 L787.2,1017.7 L789.7,1019.3 L792.2,1021 L794.6,1022.7 L797.1,1024.5 L799.5,1026.2 L802,1028 L804.4,1029.8 L806.8,1031.6 L809.2,1033.4 L811.5,1035.3 L813.8,1037.2 L816.1,1039.2 L818.2,1041.3 L820.2,1043.4 L822.1,1045.7 L823.9,1048.1 L825.6,1050.6 L827.2,1053.1 L828.7,1055.7 L830.1,1058.4 L831.3,1061.1 L832.6,1063.8 L833.8,1066.6 L834.9,1069.4 L836,1072.2 L837,1075 L838,1077.9 L839,1080.7 L839.9,1083.6 L840.8,1086.4 L841.7,1089.3 L842.6,1092.2 L843.4,1095.1 L844.2,1098 L845,1100.9 L845.7,1103.8 L846.4,1106.7 L847.1,1109.7 L847.7,1112.6 L848.3,1115.5 L848.8,1118.5 L849.3,1121.5 L849.7,1124.4 L849.9,1127.4 L850,1130.4 L849.9,1133.4 L849.7,1136.3 L849.2,1139.3 L848.6,1142.1 L847.7,1145 L846.6,1147.7 L845.4,1150.4 L844,1153.1 L842.5,1155.7 L841,1158.3 L839.5,1160.9 L838,1163.5 L836.5,1166.1 L835,1168.7 L833.7,1171.4 L832.3,1174.1 L831,1176.8 L829.8,1179.5 L828.6,1182.3 L827.4,1185.1 L826.2,1187.8 L825.1,1190.6 L823.9,1193.4 L822.7,1196.2 L821.6,1198.9 L820.4,1201.7 L819.1,1204.4 L817.9,1207.2 L816.6,1209.9 L815.3,1212.6 L814,1215.3 L812.7,1218 L811.3,1220.7 L809.9,1223.3 L808.4,1225.9 L806.8,1228.5 L805.2,1230.9 L803.4,1233.3 L801.5,1235.6 L799.6,1237.9 L797.7,1240.2 L795.8,1242.6 L793.9,1244.9 L792.1,1247.3 L790.2,1249.7 L788.4,1252 L786.5,1254.4 L784.6,1256.7 L782.7,1259.1 L780.8,1261.4 L778.8,1263.6 L776.8,1265.9 L774.8,1268.1 L772.8,1270.3 L770.7,1272.5 L768.5,1274.6 L766.4,1276.7 L764.2,1278.8 L762,1280.8 L759.8,1282.8 L757.5,1284.8 L755.2,1286.8 L752.9,1288.7 L750.6,1290.6 L748.2,1292.4 L745.8,1294.2 L743.3,1295.8 L740.7,1297.5 L738.2,1299 L735.6,1300.5 L733,1302 L730.3,1303.5 L727.7,1304.8 L725,1306.2 L722.3,1307.5 L719.5,1308.7 L716.8,1310 L714,1311.2 L711.2,1312.3 L708.4,1313.4 L705.6,1314.4 L702.8,1315.5 L699.9,1316.4 L697.1,1317.3 L694.2,1318.1 L691.3,1318.9 L688.4,1319.6 L685.4,1320.2 L682.5,1320.8 L679.5,1321.3 L676.6,1321.8 L673.6,1322.2 L670.6,1322.5 L667.6,1322.8 L664.6,1323.1 L661.6,1323.3 L658.6,1323.5 L655.6,1323.6 L652.6,1323.6 L649.6,1323.6 L646.6,1323.6 L643.6,1323.5 L640.6,1323.4 L637.6,1323.3 L634.5,1323.1 L631.5,1322.9 L628.5,1322.7 L625.5,1322.5 L622.6,1322.2 L619.6,1321.9 L616.6,1321.5 L613.6,1321.1 L610.6,1320.7 L607.6,1320.2 L604.7,1319.7 L601.7,1319.1 L598.8,1318.5 L595.9,1317.8 L593,1317 L590.1,1316.1 L587.3,1315.1 L584.5,1314.1 L581.6,1313.1 L578.9,1311.9 L576.1,1310.8 L573.4,1309.5 L570.6,1308.3 L567.9,1306.9 L565.3,1305.6 L562.6,1304.2 L560,1302.7 L557.4,1301.2 L554.8,1299.7 L552.2,1298.1 L549.7,1296.5 L547.2,1294.8 L544.7,1293.1 L542.3,1291.3 L539.9,1289.5 L537.7,1287.5 L535.5,1285.5 L533.3,1283.4 L531.3,1281.2 L529.3,1278.9 L527.4,1276.6 L525.5,1274.3 L523.7,1271.9 L521.9,1269.5 L520.2,1267.1 L518.4,1264.6 L516.8,1262.1 L515.1,1259.6 L513.4,1257.1 L511.7,1254.6 L510.1,1252.1 L508.4,1249.6 L506.8,1247 L505.2,1244.5 L503.7,1241.9 L502.3,1239.3 L500.9,1236.6 L499.7,1233.9 L498.4,1231.1 L497.1,1228.4 L495.8,1225.7 L494.5,1223 L493.2,1220.3 L491.7,1217.7 L490.3,1215 L488.8,1212.4 L487.3,1209.8 L485.7,1207.2 L484.1,1204.7 L482.5,1202.2 L480.9,1199.7 L479.1,1197.2 L477.4,1194.7 L475.6,1192.3 L473.9,1189.9 L472.1,1187.4 L470.3,1185 L468.5,1182.6 L466.8,1180.1 L465,1177.7 L463.3,1175.2 L461.7,1172.7 L460.1,1170.2 L458.7,1167.5 L457.5,1164.8 L456.3,1162.1 L455.4,1159.3 L454.7,1156.4 L454.1,1153.5 L453.8,1150.5 L453.6,1147.6 L453.6,1144.6 L453.7,1141.6 L453.9,1138.6 L454.3,1135.6 L454.7,1132.6 L455.2,1129.7 L455.7,1126.7 L456.2,1123.7 L456.7,1120.8 L457.2,1117.8 L457.8,1114.9 L458.4,1111.9 L459.1,1109 L459.8,1106.1 L460.5,1103.1 L461.2,1100.2 L462,1097.3 L462.8,1094.4 L463.6,1091.5 L464.5,1088.6 L465.4,1085.8 L466.3,1082.9 L467.3,1080.1 L468.3,1077.2 L469.4,1074.4 L470.5,1071.6 L471.6,1068.9 L472.8,1066.1 L474.1,1063.4 L475.5,1060.7 L477,1058.1 L478.4,1055.5 L480,1052.9 L481.6,1050.4 L483.4,1048 L485.1,1045.6 L487,1043.2 L488.8,1040.8 L490.7,1038.5 L492.6,1036.2 L494.6,1033.9 L496.7,1031.8 L498.9,1029.8 L501.2,1027.9 L503.5,1026 L505.9,1024.2 L508.3,1022.5 L510.8,1020.7 L513.3,1019 L515.8,1017.4 L518.3,1015.7 L520.9,1014.2 L523.4,1012.6 L526,1011 L528.6,1009.5 L531.3,1008.1 L533.9,1006.7 L536.6,1005.3 L539.3,1003.9 L542,1002.6 L544.7,1001.3 L547.4,1000.1 L550.2,998.8 L552.9,997.6 L555.7,996.4 L558.4,995.1 L561.1,993.8 L563.8,992.5 L566.5,991.1 L569.2,989.8 L571.8,988.4 L574.5,987 L577.1,985.5 L579.8,984.1 L582.5,982.7 L585.1,981.3 L587.8,979.9 L590.4,978.6 L593.2,977.5 L596,976.5 L598.8,975.7 L601.7,975.1 L604.7,974.7 L607.6,974.4 L610.6,974.2 L613.6,974.1 L616.6,974.1 L619.6,974 L622.7,974 L625.7,974 L628.7,974 L631.7,974.1 L634.7,974.1 L637.7,974.3 L640.6,974.5 L643.5,975 L646.2,975.7 L648.7,976.9 L651,978.4 L653,980.3 L654.8,982.5 L656.2,985 L657.4,987.6 L658.6,990.4 L659.6,993.2" fill="none" stroke="#2fe3ee" stroke-width="1.7" stroke-linejoin="round"/>
<line x1="659.6" y1="993.2" x2="510.7" y2="1020.8" stroke="#2fe3ee" stroke-width="1.5" />
<line x1="659.6" y1="993.2" x2="818.3" y2="1041.3" stroke="#2fe3ee" stroke-width="1.5" />
<text class="pl" transform="translate(602.9,598) scale(1.17,1)" style="font-size:27px;letter-spacing:0.04px;font-weight:normal;stroke:#222;stroke-width:0.42px;">-/+180</text>
<text class="pl" transform="translate(392.5,649.5) scale(1.17,1)" style="font-size:27px;letter-spacing:0.04px;font-weight:normal;stroke:#222;stroke-width:0.42px;">-150</text>
<text class="pl" transform="translate(852,649.8) scale(1.17,1)" style="font-size:27px;letter-spacing:0.04px;font-weight:normal;stroke:#222;stroke-width:0.42px;">150</text>
<text class="pl" transform="translate(249.9,790) scale(1.17,1)" style="font-size:27px;letter-spacing:0.04px;font-weight:normal;stroke:#222;stroke-width:0.42px;">-120</text>
<text class="pl" transform="translate(992.4,790) scale(1.17,1)" style="font-size:27px;letter-spacing:0.04px;font-weight:normal;stroke:#222;stroke-width:0.42px;">120</text>
<text class="pl" transform="translate(217.4,992.6) scale(1.17,1)" style="font-size:27px;letter-spacing:0.04px;font-weight:normal;stroke:#222;stroke-width:0.42px;">-90</text>
<text class="pl" transform="translate(1045.2,992.8) scale(1.17,1)" style="font-size:27px;letter-spacing:0.04px;font-weight:normal;stroke:#222;stroke-width:0.42px;">90</text>
<text class="pl" transform="translate(268.4,1213) scale(1.17,1)" style="font-size:27px;letter-spacing:0.04px;font-weight:normal;stroke:#222;stroke-width:0.42px;">-60</text>
<text class="pl" transform="translate(993.4,1212.9) scale(1.17,1)" style="font-size:27px;letter-spacing:0.04px;font-weight:normal;stroke:#222;stroke-width:0.42px;">60</text>
<text class="pl" transform="translate(410.1,1353.5) scale(1.17,1)" style="font-size:27px;letter-spacing:0.04px;font-weight:normal;stroke:#222;stroke-width:0.42px;">-30</text>
<text class="pl" transform="translate(851.2,1353.2) scale(1.17,1)" style="font-size:27px;letter-spacing:0.04px;font-weight:normal;stroke:#222;stroke-width:0.42px;">30</text>
<text class="pl" transform="translate(649.5,1405.3) scale(1.17,1)" style="font-size:27px;letter-spacing:0.04px;font-weight:normal;stroke:#222;stroke-width:0.42px;">0</text>
<text class="pl" transform="translate(649.7,988.9) scale(1.17,1)" style="font-size:27px;letter-spacing:0.04px;font-weight:normal;stroke:#222;stroke-width:0.42px;">0</text>
<text class="pl" transform="translate(639.8,1062.8) scale(1.17,1)" style="font-size:27px;letter-spacing:0.04px;font-weight:normal;stroke:#222;stroke-width:0.42px;">40</text>
<text class="pl" transform="translate(639.6,1139.6) scale(1.17,1)" style="font-size:27px;letter-spacing:0.04px;font-weight:normal;stroke:#222;stroke-width:0.42px;">80</text>
<text class="pl" transform="translate(631.2,1215.2) scale(1.17,1)" style="font-size:27px;letter-spacing:0.04px;font-weight:normal;stroke:#222;stroke-width:0.42px;">120</text>
<text class="pl" transform="translate(631.2,1290.3) scale(1.17,1)" style="font-size:27px;letter-spacing:0.04px;font-weight:normal;stroke:#222;stroke-width:0.42px;">160</text>
<text class="pl" transform="translate(630.7,1363.5) scale(1.17,1)" style="font-size:27px;letter-spacing:0.04px;font-weight:normal;stroke:#222;stroke-width:0.42px;">200</text>
<text class="pl" transform="translate(996.3,1258.8) scale(1.36,1)" style="font-size:22.4px;letter-spacing:-1.38px;font-weight:bold;stroke:#222;stroke-width:0.8px;">UNIT:cd</text>
<line x1="903.5" y1="1288.8" x2="940.5" y2="1288.8" stroke="#e8262a" stroke-width="1.8" />
<text class="pl" transform="translate(949.3,1295.2) scale(1.29,1)" style="font-size:22.4px;letter-spacing:-0.60px;font-weight:normal;stroke:#222;stroke-width:0.6px;">C0/180,107.8deg</text>
<line x1="903.5" y1="1324.6" x2="940.5" y2="1324.6" stroke="#22d322" stroke-width="1.8" />
<text class="pl" transform="translate(949.3,1331) scale(1.29,1)" style="font-size:22.4px;letter-spacing:-0.60px;font-weight:normal;stroke:#222;stroke-width:0.6px;">C30/210,116.8deg</text>
<line x1="903.5" y1="1360.6" x2="940.5" y2="1360.6" stroke="#1c1cd8" stroke-width="1.8" />
<text class="pl" transform="translate(949.3,1367) scale(1.29,1)" style="font-size:22.4px;letter-spacing:-0.60px;font-weight:normal;stroke:#222;stroke-width:0.6px;">C60/240,139.7deg</text>
<line x1="903.5" y1="1395.4" x2="940.5" y2="1395.4" stroke="#2fe3ee" stroke-width="1.8" />
<text class="pl" transform="translate(949.3,1401.8) scale(1.29,1)" style="font-size:22.4px;letter-spacing:-0.60px;font-weight:normal;stroke:#222;stroke-width:0.6px;">C90/270,150.3deg</text>
<text class="pl" transform="translate(352.3,1429.2) scale(1.33,1)" style="font-size:23.5px;letter-spacing:0.03px;font-weight:bold;stroke:#222;stroke-width:0.5px;">AVERAGE BEAM ANGLE<tspan style="font-weight:normal;stroke-width:0.7px">(50%):128.6</tspan> DEG</text>
</svg>
</body></html>
